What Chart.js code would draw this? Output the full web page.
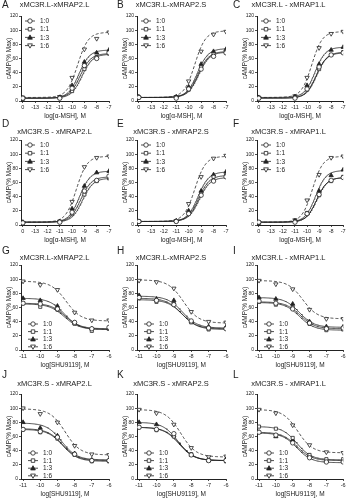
<!DOCTYPE html>
<html>
<head>
<meta charset="utf-8">
<script src="https://cdn.jsdelivr.net/npm/chart.js@4.4.1/dist/chart.umd.min.js"></script>
<style>
  html, body { margin: 0; padding: 0; background: #fff; }
  body { width: 349px; height: 499px; position: relative; overflow: hidden; font-family: "Liberation Sans", Arial, sans-serif; }
  canvas { position: absolute; }
  .letter { position: absolute; font-size: 10px; line-height: 10px; color: #222; }
</style>
</head>
<body>
<script>
const ratioLabels = ['1:0', '1:1', '1:3', '1:6'];
const agonistDoses = [-14, -11, -10, -9, -8, -7];      // -14 stands for the no-ligand point, shown as "0"
const antagonistDoses = [-11, -10, -9, -8, -7, -6];
const agonistTicks = [-14, -13, -12, -11, -10, -9, -8, -7];
const antagonistTicks = [-11, -10, -9, -8, -7, -6];
const yTicks = [0, 20, 40, 60, 80, 100, 120];

const panelLetters = ['A', 'B', 'C', 'D', 'E', 'F', 'G', 'H', 'I', 'J', 'K', 'L'];
const panelTitles = [
    'xMC3R.L-xMRAP2.L', 'xMC3R.L-xMRAP2.S', 'xMC3R.L - xMRAP1.L',
    'xMC3R.S - xMRAP2.L', 'xMC3R.S - xMRAP2.S', 'xMC3R.S - xMRAP1.L',
    'xMC3R.L-xMRAP2.L', 'xMC3R.L-xMRAP2.S', 'xMC3R.L - xMRAP1.L',
    'xMC3R.S - xMRAP2.L', 'xMC3R.S - xMRAP2.S', 'xMC3R.S - xMRAP1.L'
];

// cAMP (% max), one row per ratio: 1:0, 1:1, 1:3, 1:6
const campA = [[4, 4, 18, 50, 60, 68], [3, 4, 14, 45, 62, 67], [4, 5, 22, 55, 68, 72], [5, 6, 33, 73, 88, 97]];
const campB = [[5, 4, 17, 45, 63, 68], [5, 5, 16, 48, 66, 70], [6, 6, 20, 52, 70, 73], [5, 6, 28, 70, 94, 98]];
const campC = [[4, 4, 17, 48, 65, 68], [4, 5, 16, 45, 65, 69], [5, 6, 22, 52, 72, 76], [5, 7, 33, 75, 95, 98]];
const campD = [[3, 4, 18, 48, 63, 69], [3, 4, 16, 43, 62, 66], [4, 5, 23, 55, 74, 76], [3, 5, 33, 82, 95, 97]];
const campE = [[5, 5, 16, 42, 62, 68], [5, 5, 17, 44, 68, 70], [5, 6, 20, 48, 71, 75], [5, 6, 30, 68, 94, 98]];
const campF = [[4, 4, 16, 43, 63, 67], [4, 5, 17, 42, 62, 68], [3, 6, 16, 48, 70, 78], [3, 7, 35, 71, 95, 97]];
const campG = [[66, 65, 58, 39, 30, 32], [66, 61, 57, 37, 27, 30], [73, 70, 62, 38, 30, 30], [97, 92, 85, 53, 42, 42]];
const campH = [[74, 70, 64, 41, 31, 30], [73, 68, 65, 39, 29, 31], [77, 72, 70, 40, 33, 32], [98, 96, 87, 54, 40, 39]];
const campI = [[69, 66, 58, 38, 30, 31], [68, 64, 60, 37, 28, 29], [74, 72, 65, 40, 33, 33], [98, 93, 86, 57, 44, 44]];
const campJ = [[70, 67, 59, 35, 26, 26], [70, 66, 57, 34, 25, 25], [80, 72, 61, 36, 27, 27], [100, 92, 80, 47, 35, 34]];
const campK = [[73, 70, 64, 34, 26, 26], [73, 69, 60, 35, 27, 25], [80, 77, 62, 34, 26, 28], [98, 93, 77, 44, 31, 32]];
const campL = [[66, 62, 51, 30, 24, 24], [74, 71, 58, 34, 28, 28], [66, 60, 55, 33, 26, 26], [98, 93, 76, 48, 38, 37]];

// fitted curves, one row per ratio: [bottom, top, logEC50 or logIC50]
const fitA = [[4, 67, -9.35], [4, 66, -9.2], [4, 72, -9.45], [5, 97, -9.55]];
const fitB = [[5, 69, -9.2], [5, 70, -9.25], [5, 74, -9.3], [5, 99, -9.5]];
const fitC = [[4, 68, -9.25], [4, 69, -9.2], [5, 76, -9.35], [5, 98, -9.6]];
const fitD = [[4, 68, -9.3], [4, 66, -9.15], [4, 76, -9.4], [4, 97, -9.65]];
const fitE = [[5, 67, -9.15], [5, 70, -9.2], [5, 75, -9.25], [5, 97, -9.5]];
const fitF = [[4, 67, -9.2], [4, 67, -9.2], [4, 77, -9.3], [4, 97, -9.55]];
const fitG = [[30, 66, -8.55], [29, 65, -8.6], [29, 73, -8.6], [41, 97, -8.5]];
const fitH = [[30, 73, -8.55], [29, 71, -8.5], [31, 76, -8.5], [38, 99, -8.45]];
const fitI = [[30, 68, -8.55], [28, 67, -8.6], [32, 74, -8.6], [44, 98, -8.4]];
const fitJ = [[26, 71, -8.7], [25, 70, -8.7], [27, 79, -8.75], [34, 99, -8.55]];
const fitK = [[26, 73, -8.65], [26, 73, -8.7], [26, 80, -8.75], [31, 98, -8.6]];
const fitL = [[23, 65, -8.75], [27, 74, -8.75], [26, 66, -8.75], [37, 98, -8.7]];

const campSets = [campA, campB, campC, campD, campE, campF, campG, campH, campI, campJ, campK, campL];
const fitSets = [fitA, fitB, fitC, fitD, fitE, fitF, fitG, fitH, fitI, fitJ, fitK, fitL];

const INK = '#222';
const FONT = '"Liberation Sans", Arial, sans-serif';

// marker per ratio: open circle, open square, filled triangle, open inverted triangle
const markers = [
    { style: 'circle', rotation: 0, fill: '#fff', r: 2.2 },
    { style: 'rect', rotation: 0, fill: '#fff', r: 2.2 },
    { style: 'triangle', rotation: 0, fill: INK, r: 2.5 },
    { style: 'triangle', rotation: 180, fill: '#fff', r: 2.5 }
];

// layout per column and row
const colLeft = [0, 116, 232];
const yAxisWidth = [21, 21, 25];
const rightPad = [7, 6, 3];
const rowTop = [0, 124, 249, 378];
const titlePadTop = [0.5, 3.5, 4.5, 1.5];
const letterPos = [[2, 0], [117, 0], [233, 0]];
const letterRowY = [0, 119, 246, 370];

function sigmoid(p, x, rising) {
    const [bottom, top, mid] = p;
    const e = rising ? (mid - x) : (x - mid);
    return bottom + (top - bottom) / (1 + Math.pow(10, e));
}

function curvePoints(p, x0, x1, rising) {
    const pts = [];
    for (let x = x0; x <= x1 + 1e-9; x += 0.05) {
        pts.push({ x: x, y: sigmoid(p, x, rising) });
    }
    return pts;
}

function drawMarker(ctx, m, x, y) {
    ctx.save();
    ctx.translate(x, y);
    ctx.rotate(m.rotation * Math.PI / 180);
    ctx.beginPath();
    if (m.style === 'circle') {
        ctx.arc(0, 0, m.r, 0, Math.PI * 2);
    } else if (m.style === 'rect') {
        ctx.rect(-m.r * 0.8, -m.r * 0.8, m.r * 1.6, m.r * 1.6);
    } else {
        ctx.moveTo(0, -m.r);
        ctx.lineTo(m.r * 0.95, m.r * 0.7);
        ctx.lineTo(-m.r * 0.95, m.r * 0.7);
        ctx.closePath();
    }
    ctx.fillStyle = m.fill;
    ctx.fill();
    ctx.lineWidth = 0.8;
    ctx.strokeStyle = INK;
    ctx.stroke();
    ctx.restore();
}

const insetLegend = {
    id: 'insetLegend',
    afterDatasetsDraw(chart, args, opts) {
        const { ctx, chartArea } = chart;
        ratioLabels.forEach((label, i) => {
            const x = chartArea.left + opts.left;
            const y = chartArea.top + opts.top + i * opts.gap;
            ctx.save();
            ctx.strokeStyle = INK;
            ctx.lineWidth = 0.8;
            ctx.beginPath();
            ctx.moveTo(x - 5, y);
            ctx.lineTo(x + 5, y);
            ctx.stroke();
            ctx.restore();
            drawMarker(ctx, markers[i], x, y);
            ctx.save();
            ctx.fillStyle = INK;
            ctx.font = '6.5px ' + FONT;
            ctx.textBaseline = 'middle';
            ctx.fillText(label, x + 10, y + 0.5);
            ctx.restore();
        });
    }
};

function makePanel(idx) {
    const row = Math.floor(idx / 3);
    const col = idx % 3;
    const rising = row < 2;
    const doses = rising ? agonistDoses : antagonistDoses;
    const tickVals = rising ? agonistTicks : antagonistTicks;
    const xMin = rising ? -14.15 : -11.12;
    const xMax = rising ? -7 : -6;
    const camp = campSets[idx];
    const fit = fitSets[idx];

    const canvas = document.createElement('canvas');
    canvas.width = 116;
    canvas.height = 124;
    canvas.style.left = colLeft[col] + 'px';
    canvas.style.top = rowTop[row] + 'px';
    document.body.appendChild(canvas);

    const letter = document.createElement('div');
    letter.className = 'letter';
    letter.textContent = panelLetters[idx];
    letter.style.left = letterPos[col][0] + 'px';
    letter.style.top = letterRowY[row] + 'px';
    document.body.appendChild(letter);

    const datasets = [];
    ratioLabels.forEach((label, i) => {
        datasets.push({
            label: label,
            data: doses.map((x, j) => ({ x: x, y: camp[i][j] })),
            pointStyle: markers[i].style,
            rotation: markers[i].rotation,
            pointRadius: markers[i].r,
            backgroundColor: markers[i].fill,
            borderColor: INK,
            borderWidth: 0.8,
            showLine: false,
            order: 0
        });
    });
    ratioLabels.forEach((label, i) => {
        datasets.push({
            label: label + ' fit',
            data: curvePoints(fit[i], rising ? -14 : -11, xMax, rising),
            showLine: true,
            pointRadius: 0,
            borderColor: INK,
            borderWidth: 0.8,
            borderDash: i === 3 ? [3, 2] : [],
            fill: false,
            order: 1
        });
    });

    new Chart(canvas, {
        type: 'scatter',
        data: { datasets: datasets },
        options: {
            responsive: false,
            animation: false,
            events: [],
            layout: { padding: { left: 0, right: rightPad[col], top: 0, bottom: 0 } },
            scales: {
                x: {
                    type: 'linear',
                    min: xMin,
                    max: xMax,
                    afterBuildTicks: s => { s.ticks = tickVals.map(v => ({ value: v })); },
                    afterFit: s => { s.height = 23; },
                    ticks: {
                        autoSkip: false,
                        maxRotation: 0,
                        padding: 1,
                        color: INK,
                        font: { size: 5.5, family: FONT },
                        callback: v => v === -14 ? '0' : String(v)
                    },
                    grid: { drawOnChartArea: false, tickLength: 2, color: INK, lineWidth: 0.8 },
                    border: { color: INK, width: 1 },
                    title: {
                        display: true,
                        text: rising ? 'log[α-MSH], M' : 'log[SHU9119], M',
                        color: INK,
                        font: { size: 6.5, family: FONT },
                        padding: { top: 0, bottom: 4 }
                    }
                },
                y: {
                    min: 0,
                    max: 120,
                    afterBuildTicks: s => { s.ticks = yTicks.map(v => ({ value: v })); },
                    afterFit: s => { s.width = yAxisWidth[col]; },
                    ticks: { padding: 1, color: INK, font: { size: 5, family: FONT } },
                    grid: { drawOnChartArea: false, tickLength: 2, color: INK, lineWidth: 0.8 },
                    border: { color: INK, width: 1 },
                    title: {
                        display: true,
                        text: 'cAMP(% Max)',
                        color: INK,
                        font: { size: 6.5, family: FONT },
                        padding: { top: yAxisWidth[col] - 15.5, bottom: 0 }
                    }
                }
            },
            plugins: {
                legend: { display: false },
                tooltip: { enabled: false },
                title: {
                    display: true,
                    text: panelTitles[idx],
                    color: INK,
                    font: { size: 7.5, family: FONT, weight: 'normal' },
                    padding: { top: titlePadTop[row], bottom: 16 - 9 - titlePadTop[row] }
                },
                insetLegend: rising ? { left: 9, top: 5, gap: 8.2 } : { left: 12, top: 59, gap: 7.6 }
            }
        },
        plugins: [insetLegend]
    });
}

for (let i = 0; i < 12; i++) {
    makePanel(i);
}
</script>
</body>
</html>
